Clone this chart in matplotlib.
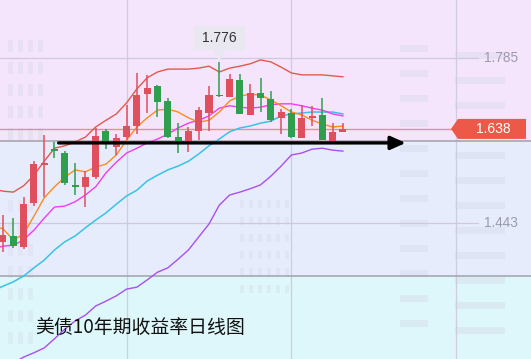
import numpy as np
import matplotlib
matplotlib.use("Agg")
import matplotlib.pyplot as plt
from matplotlib.patches import Polygon, Rectangle

# ---------------- data (US 10Y yield, daily candles) ----------------
opens  = [1.404, 1.416, 1.393, 1.484, 1.563, 1.596, 1.588, 1.522, 1.518, 1.538,
          1.634, 1.600, 1.621, 1.644, 1.710, 1.727, 1.696, 1.621, 1.613, 1.634,
          1.671, 1.708, 1.704, 1.739, 1.667, 1.712, 1.700, 1.661, 1.671, 1.619,
          1.661, 1.667, 1.613, 1.632]
highs  = [1.460, 1.453, 1.497, 1.571, 1.625, 1.611, 1.592, 1.567, 1.551, 1.640,
          1.638, 1.627, 1.688, 1.754, 1.750, 1.729, 1.702, 1.650, 1.642, 1.683,
          1.727, 1.776, 1.752, 1.752, 1.731, 1.744, 1.717, 1.679, 1.679, 1.688,
          1.686, 1.702, 1.650, 1.650]
lows   = [1.383, 1.391, 1.389, 1.478, 1.497, 1.578, 1.522, 1.501, 1.476, 1.534,
          1.596, 1.584, 1.615, 1.627, 1.671, 1.663, 1.619, 1.588, 1.590, 1.615,
          1.634, 1.705, 1.704, 1.669, 1.667, 1.673, 1.652, 1.627, 1.619, 1.619,
          1.644, 1.615, 1.613, 1.632]
closes = [1.418, 1.395, 1.482, 1.565, 1.567, 1.592, 1.526, 1.518, 1.538, 1.623,
          1.607, 1.619, 1.644, 1.708, 1.723, 1.694, 1.621, 1.613, 1.634, 1.677,
          1.708, 1.706, 1.742, 1.669, 1.712, 1.702, 1.656, 1.673, 1.621, 1.661,
          1.665, 1.615, 1.632, 1.638]

# indicator lines start one session before the first visible candle
ma5 = [1.437, 1.431, 1.408, 1.420, 1.457, 1.495, 1.518, 1.538, 1.553, 1.549,
       1.559, 1.565, 1.584, 1.615, 1.642, 1.661, 1.677, 1.679, 1.673, 1.661,
       1.652, 1.656, 1.673, 1.696, 1.706, 1.710, 1.708, 1.698, 1.686, 1.673,
       1.667, 1.656, 1.648, 1.642, 1.644]
ma10 = [1.389, 1.395, 1.397, 1.408, 1.428, 1.453, 1.476, 1.478, 1.487, 1.501,
        1.518, 1.547, 1.569, 1.588, 1.598, 1.609, 1.617, 1.627, 1.640, 1.650,
        1.656, 1.665, 1.681, 1.686, 1.683, 1.681, 1.683, 1.688, 1.690, 1.690,
        1.686, 1.681, 1.677, 1.669, 1.665]
boll_mid = [1.302, 1.312, 1.321, 1.333, 1.350, 1.366, 1.387, 1.404, 1.416, 1.433,
            1.449, 1.464, 1.482, 1.499, 1.511, 1.530, 1.542, 1.553, 1.561, 1.571,
            1.586, 1.603, 1.617, 1.632, 1.640, 1.644, 1.650, 1.654, 1.665, 1.669,
            1.671, 1.673, 1.673, 1.673, 1.669]
boll_up = [1.514, 1.509, 1.507, 1.520, 1.542, 1.571, 1.598, 1.603, 1.611, 1.621,
           1.642, 1.656, 1.669, 1.692, 1.721, 1.744, 1.756, 1.762, 1.762, 1.762,
           1.764, 1.768, 1.756, 1.764, 1.768, 1.773, 1.781, 1.777, 1.766, 1.754,
           1.750, 1.750, 1.750, 1.748, 1.746]
boll_low = [1.128, 1.142, 1.153, 1.165, 1.174, 1.184, 1.203, 1.223, 1.240, 1.252,
            1.271, 1.281, 1.292, 1.306, 1.310, 1.325, 1.341, 1.350, 1.368, 1.387,
            1.414, 1.441, 1.480, 1.501, 1.507, 1.514, 1.522, 1.540, 1.561, 1.584,
            1.588, 1.596, 1.598, 1.594, 1.592]

grid_levels = [1.785, 1.443]
grid_labels = ["1.785", "1.443"]
session_grid = [12, 28, 44]
zone_levels = [1.612, 1.333]          # boundaries of the shaded zones
support_level = 1.609                 # hand-drawn black arrow
support_from, support_to = 5.4, 39.1
title = "美债10年期收益率日线图"

# ---------------- figure ----------------
W, H = 531, 359
fig = plt.figure(figsize=(W / 100, H / 100), dpi=100)
ax = fig.add_axes([0, 0, 1, 1])
ax.set_axis_off()

x_lo, x_hi = -0.29, 51.26
y_lo, y_hi = 1.1611, 1.9052
ax.set_xlim(x_lo, x_hi)
ax.set_ylim(y_lo, y_hi)
px = (x_hi - x_lo) / W      # index units per pixel
py = (y_hi - y_lo) / H      # yield units per pixel

# background zones
ax.axhspan(zone_levels[0], y_hi, color="#f4e5fc", zorder=0)
ax.axhspan(zone_levels[1], zone_levels[0], color="#e7ecfd", zorder=0)
ax.axhspan(y_lo, zone_levels[1], color="#ddf7fa", zorder=0)

# faint "building" watermark
wm = "#d4d8ea"
def wrect(xp, yp, wp, hp, a=0.4):
    ax.add_patch(Rectangle((x_lo + xp * px, y_hi - (yp + hp) * py), wp * px, hp * py,
                           color=wm, alpha=a, lw=0, zorder=0.5))
for col in range(4):
    for row in range(5):
        wrect(8 + col * 10, 40 + row * 22, 5, 12)
for col in range(3):
    for row in range(7):
        wrect(8 + col * 10, 200 + row * 22, 5, 12, 0.3)
for row in range(12):
    wrect(400, 45 + row * 25, 28, 7)
    wrect(455, 52 + row * 25, 50, 7)
for col in range(6):
    for row in range(6):
        wrect(240 + col * 9, 200 + row * 17, 4, 8, 0.35)

# grid
for g in session_grid:
    ax.axvline(g, color="#cfcbe0", lw=0.9, zorder=1)
for lv, lab in zip(grid_levels, grid_labels):
    ax.plot([x_lo, x_lo + 478 * px], [lv, lv], color="#cfc9de", lw=0.9, zorder=1)
    ax.text(x_lo + 484 * px, lv, lab, fontsize=9.8, color="#9a9aae",
            family="Liberation Sans", va="center", ha="left", zorder=2)
for lv in zone_levels:
    ax.axhline(lv, color="#a2a2a6", lw=1.1, zorder=1.5)

# indicator lines
xl = np.arange(-1, len(closes))
ax.plot(xl, boll_up, color="#e2594b", lw=1.0, zorder=3)
ax.plot(xl, boll_low, color="#a94ff2", lw=1.0, zorder=3)
ax.plot(xl, boll_mid, color="#35c4e6", lw=1.1, zorder=3)
ax.plot(xl, ma10, color="#f23cf0", lw=1.0, zorder=3)
ax.plot(xl, ma5, color="#ff8a1c", lw=1.0, zorder=3)

# last price line
last = closes[-1]
tip = x_lo + 451 * px
ax.plot([x_lo, tip], [last, last], color="#f08c8c", lw=1.0, zorder=2.5)

# candles
up_c, dn_c = "#e04f5d", "#2f9e4f"
xc = np.arange(len(closes))
for i in xc:
    o, h, l, c = opens[i], highs[i], lows[i], closes[i]
    col = up_c if c >= o else dn_c
    ax.vlines(i, l, h, color=col, lw=1.1, zorder=4)
    bot = min(o, c)
    ht = max(abs(c - o), 1.6 * py)
    ax.add_patch(Rectangle((i - 0.34, bot), 0.68, ht, color=col, lw=0, zorder=5))

# support arrow
ax.annotate("", xy=(support_to, support_level), xytext=(support_from, support_level),
            arrowprops=dict(arrowstyle="-|>,head_length=0.9,head_width=0.4",
                            color="black", lw=2.4, shrinkA=0, shrinkB=0), zorder=6)

# last price tag
bw0 = x_lo + 458 * px
bw1 = x_lo + 526 * px
hh = 10 * py
ax.add_patch(Polygon([(tip, last), (bw0, last + hh), (bw1, last + hh),
                      (bw1, last - hh), (bw0, last - hh)], closed=True,
                     color="#ec5949", lw=0, zorder=7))
ax.text((bw0 + bw1) / 2 + 1 * px, last, f"{last:.3f}", color="white", fontsize=10,
        family="Liberation Sans", ha="center", va="center", zorder=8)

# highest point callout
imax = int(np.argmax(highs))
hmax = highs[imax]
by0 = hmax + 12 * py
by1 = hmax + 36 * py
bx0 = imax - 25 * px
bx1 = imax + 26 * px
ax.add_patch(Rectangle((bx0, by0), bx1 - bx0, by1 - by0, color="#e9e8f0", lw=0, zorder=7))
ax.add_patch(Polygon([(imax - 6 * px, by0), (imax + 6 * px, by0), (imax, hmax + 1 * py)],
                     closed=True, color="#e9e8f0", lw=0, zorder=7))
ax.text(imax, (by0 + by1) / 2, f"{hmax:.3f}", color="#333333", fontsize=10,
        family="Liberation Sans", ha="center", va="center", zorder=8)

# title
ax.text(35 / W, 1 - 327 / H, title, transform=ax.transAxes, fontsize=13.6,
        family=["Noto Sans CJK SC", "DejaVu Sans"], color="#111111",
        ha="left", va="center", zorder=9)

fig.savefig("out.png", dpi=100)
